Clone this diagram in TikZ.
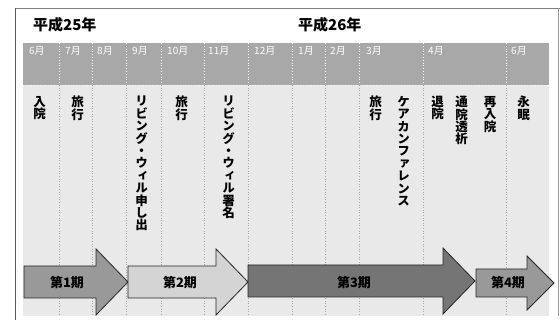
\documentclass[tikz,border=0pt]{standalone}
\usepackage{fontspec}
\newfontfamily\jp{Noto Sans CJK JP}
\newfontfamily\jpv{Noto Sans CJK JP}[RawFeature=+vert]
\definecolor{bandgray}{gray}{0.66}
\definecolor{bodygray}{gray}{0.915}
\definecolor{aone}{gray}{0.6}
\definecolor{atwo}{gray}{0.83}
\definecolor{athree}{gray}{0.46}
\definecolor{afour}{gray}{0.6}
\definecolor{framegray}{gray}{0.35}
\newcommand\phasearrow[7]{%
  \filldraw[#7,draw=black!85,line width=0.8pt,line join=miter]
    (#1,{#4-#5}) -- (#2,{#4-#5}) -- (#2,{#4-#6}) -- (#3,#4) --
    (#2,{#4+#6}) -- (#2,{#4+#5}) -- (#1,{#4+#5}) -- cycle;}
\tikzset{
  month/.style={anchor=west,inner sep=0pt,text=white,font={\jp\fontsize{10}{10}\selectfont}},
  year/.style={anchor=west,inner sep=0pt,font={\jp\bfseries\fontsize{15}{16}\selectfont}},
  event/.style={anchor=north,inner sep=0pt,align=center,font={\jpv\bfseries\fontsize{12.5}{12.4}\selectfont}},
  phase/.style={inner sep=0pt,font={\jp\bfseries\fontsize{13}{13}\selectfont}},
  colline/.style={gray!70,dotted,line width=0.6pt},
  bandline/.style={white,dotted,line width=0.8pt}
}
\begin{document}
\begin{tikzpicture}[x=1pt,y=-1pt]
\useasboundingbox (0,0) rectangle (560,320);
\fill[white] (0,0) rectangle (560,320);
% frame
\draw[gray,line width=0.6pt] (15,8) -- (560,8);
\draw[gray!80,line width=0.6pt] (558,8) -- (558,316);
\draw[framegray,line width=1.6pt] (15.5,8) -- (15.5,320);
% header band and body
\fill[bandgray] (23,43) rectangle (549,85);
\fill[bodygray] (23,85) rectangle (549,316);
\draw[white,dotted,line width=0.8pt] (23,85) -- (549,85);
\foreach \cx in {59,92,126,161,204,248,292,325,359,423,506}{
  \draw[bandline] (\cx,43) -- (\cx,85);
  \draw[colline] (\cx,85) -- (\cx,316);
}
% years
\node[year] (y25) at (33,25) {平成25年};
\node[year] (y26) at (298,25) {平成26年};
% months
\node[month] (m6) at (29,51) {6月};
\node[month] (m7) at (65,51) {7月};
\node[month] (m8) at (97,51) {8月};
\node[month] (m9) at (132,51) {9月};
\node[month] (m10) at (167,51) {10月};
\node[month] (m11) at (208,51) {11月};
\node[month] (m12) at (254,51) {12月};
\node[month] (m1) at (298,51) {1月};
\node[month] (m2) at (330,51) {2月};
\node[month] (m3) at (366,51) {3月};
\node[month] (m4) at (428,51) {4月};
\node[month] (m6b) at (511,51) {6月};
% events
\node[event] (e1) at (39.5,96) {入\\院};
\node[event] (e2) at (77.5,96) {旅\\行};
\node[event] (e3) at (141.5,96) {リ\\ビ\\ン\\グ\\・\\ウ\\ィ\\ル\\申\\し\\出};
\node[event] (e4) at (181.5,96) {旅\\行};
\node[event] (e5) at (228.5,96) {リ\\ビ\\ン\\グ\\・\\ウ\\ィ\\ル\\署\\名};
\node[event] (e6) at (375.5,96) {旅\\行};
\node[event] (e7) at (403.5,96) {ケ\\ア\\カ\\ン\\フ\\ァ\\レ\\ン\\ス};
\node[event] (e8) at (437.5,96) {退\\院};
\node[event] (e9) at (461.5,96) {通\\院\\透\\析};
\node[event] (e10) at (490,96) {再\\入\\院};
\node[event] (e11) at (523.5,96) {永\\眠};
% phases
\phasearrow{24}{96}{128}{282}{16}{33}{aone}
\phasearrow{128}{216}{248}{282}{16}{33}{atwo}
\phasearrow{248}{443}{475}{281}{16}{33}{athree}
\phasearrow{476}{527}{554}{283}{14}{27}{afour}
\node[phase] (p1) at (67,283) {第1期};
\node[phase] (p2) at (180,283) {第2期};
\node[phase] (p3) at (354,283) {第3期};
\node[phase] (p4) at (508,283) {第4期};
\end{tikzpicture}
\end{document}
